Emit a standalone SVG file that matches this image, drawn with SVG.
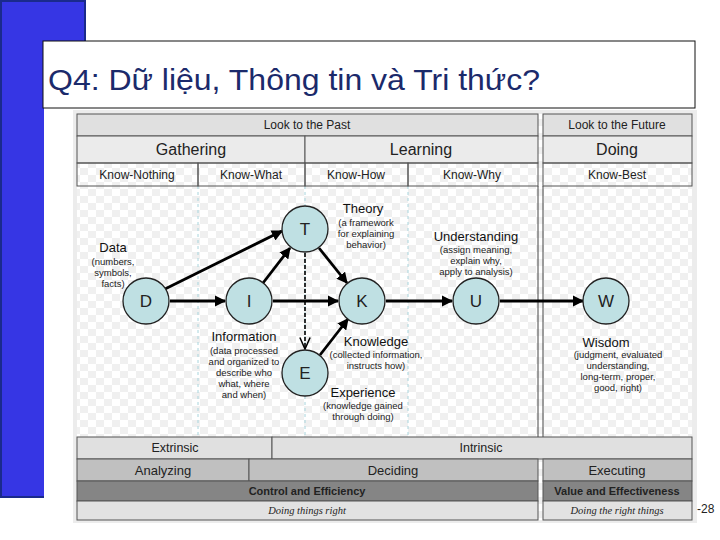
<svg xmlns="http://www.w3.org/2000/svg" width="720" height="540" viewBox="0 0 720 540">
<defs>
<pattern id="chk" x="0" y="0" width="16" height="14" patternUnits="userSpaceOnUse">
<rect width="16" height="14" fill="#ffffff"/>
<rect x="0" y="0" width="8" height="7" fill="#f0f0f0"/>
<rect x="8" y="7" width="8" height="7" fill="#f0f0f0"/>
</pattern>
<marker id="ah" viewBox="0 0 10 10" refX="9" refY="5" markerWidth="4" markerHeight="4" orient="auto" markerUnits="strokeWidth">
<path d="M0,0 L10,5 L0,10 Z" fill="#000"/>
</marker>
<marker id="ao" viewBox="0 0 10 10" refX="9" refY="5" markerWidth="8" markerHeight="8" orient="auto" markerUnits="strokeWidth">
<path d="M0,1 L9,5 L0,9" fill="none" stroke="#000" stroke-width="1.2"/>
</marker>
</defs>
<style>
.cell{stroke:#555;stroke-width:1}
.t{font-family:"Liberation Sans",Arial,sans-serif;fill:#222;text-anchor:middle}
.h1{font-size:12px}
.h2{font-size:16px}
.lab{font-family:"Liberation Sans",Arial,sans-serif;fill:#111;text-anchor:middle;font-size:13px}
.sub{font-family:"Liberation Sans",Arial,sans-serif;fill:#222;text-anchor:middle;font-size:9.5px}
.node circle{fill:#bfe0e3;stroke:#222;stroke-width:1.3}
.node text{font-family:"Liberation Sans",Arial,sans-serif;font-size:17px;fill:#222;text-anchor:middle}
.arr{stroke:#000;stroke-width:2.8;fill:none;marker-end:url(#ah)}
.vd{stroke:#a8d4dc;stroke-width:1;stroke-dasharray:3,3}
</style>
<rect width="720" height="540" fill="#fff"/>
<!-- blue bar -->
<rect x="1" y="1" width="84" height="496" fill="#3636e4" stroke="#1a2a8c" stroke-width="2"/>
<rect x="44" y="41" width="676" height="499" fill="#fff"/>
<!-- title box -->
<g id="title">
<rect x="43" y="41" width="652" height="67" fill="#fff" stroke="#111" stroke-width="1"/>
<text x="48" y="90" font-family="'Liberation Sans',Arial,sans-serif" font-size="30" fill="#1b2a6b" textLength="492" lengthAdjust="spacingAndGlyphs">Q4: Dữ liệu, Thông tin và Tri thức?</text>
</g>
<!-- diagram frame -->
<rect x="73" y="110" width="624" height="413" fill="#ececec"/>
<rect x="77" y="114" width="615" height="406" fill="url(#chk)"/>
<!-- column guides -->
<g id="guides">
<line class="vd" x1="198" y1="186" x2="198" y2="437"/>
<line class="vd" x1="305" y1="186" x2="305" y2="437"/>
<line class="vd" x1="408" y1="186" x2="408" y2="437"/>
</g>
<!-- header table -->
<g id="header">
<rect class="cell" x="77" y="114" width="461" height="22" fill="#e0e0e0"/>
<rect class="cell" x="543" y="114" width="149" height="22" fill="#e0e0e0"/>
<rect class="cell" x="77" y="136" width="228" height="27" fill="#ebebeb"/>
<rect class="cell" x="305" y="136" width="233" height="27" fill="#ebebeb"/>
<rect class="cell" x="543" y="136" width="149" height="27" fill="#ebebeb"/>
<rect class="cell" x="77" y="163" width="121" height="23" fill="none"/>
<rect class="cell" x="198" y="163" width="107" height="23" fill="none"/>
<rect class="cell" x="305" y="163" width="103" height="23" fill="none"/>
<rect class="cell" x="408" y="163" width="130" height="23" fill="none"/>
<rect class="cell" x="543" y="163" width="149" height="23" fill="none"/>
<text class="t h1" x="307" y="129">Look to the Past</text>
<text class="t h1" x="617" y="129">Look to the Future</text>
<text class="t h2" x="191" y="155">Gathering</text>
<text class="t h2" x="421" y="155">Learning</text>
<text class="t h2" x="617" y="155">Doing</text>
<text class="t h1" x="137" y="179">Know-Nothing</text>
<text class="t h1" x="251" y="179">Know-What</text>
<text class="t h1" x="356" y="179">Know-How</text>
<text class="t h1" x="472" y="179">Know-Why</text>
<text class="t h1" x="617" y="179">Know-Best</text>
</g>
<!-- double divider -->
<g id="divider" stroke="#444" stroke-width="1">
<line x1="538" y1="186" x2="538" y2="437"/>
<line x1="543" y1="186" x2="543" y2="437"/>
</g>
<!-- connectors -->
<g id="connectors">
<line class="arr" x1="165" y1="289" x2="282" y2="231"/>
<line class="arr" x1="170" y1="301" x2="225" y2="301"/>
<line class="arr" x1="263" y1="283" x2="290" y2="248"/>
<line class="arr" x1="273" y1="301" x2="338" y2="301"/>
<line class="arr" x1="319" y1="248" x2="347" y2="283"/>
<line class="arr" x1="320" y1="355" x2="348" y2="319"/>
<line class="arr" x1="386" y1="301" x2="452" y2="301"/>
<line class="arr" x1="500" y1="301" x2="583" y2="301"/>
<line x1="305" y1="253" x2="305" y2="349" stroke="#000" stroke-width="1.6" stroke-dasharray="4,2" marker-end="url(#ao)"/>
</g>
<!-- nodes -->
<g id="node-D" class="node"><circle cx="146" cy="301" r="23"/><text x="146" y="307">D</text></g>
<g id="node-I" class="node"><circle cx="249" cy="301" r="23"/><text x="249" y="307">I</text></g>
<g id="node-T" class="node"><circle cx="305" cy="229" r="23"/><text x="305" y="235">T</text></g>
<g id="node-K" class="node"><circle cx="362" cy="301" r="23"/><text x="362" y="307">K</text></g>
<g id="node-U" class="node"><circle cx="476" cy="301" r="23"/><text x="476" y="307">U</text></g>
<g id="node-W" class="node"><circle cx="606" cy="301" r="23"/><text x="606" y="307">W</text></g>
<g id="node-E" class="node"><circle cx="305" cy="373" r="23"/><text x="305" y="379">E</text></g>
<!-- labels -->
<g id="labels">
<text class="lab" x="113" y="252">Data</text>
<text class="sub" x="113" y="265">(numbers,</text>
<text class="sub" x="113" y="276">symbols,</text>
<text class="sub" x="113" y="287">facts)</text>
<text class="lab" x="363" y="213">Theory</text>
<text class="sub" x="366" y="226">(a framework</text>
<text class="sub" x="366" y="237">for explaining</text>
<text class="sub" x="366" y="248">behavior)</text>
<text class="lab" x="476" y="241">Understanding</text>
<text class="sub" x="476" y="253">(assign meaning,</text>
<text class="sub" x="476" y="264">explain why,</text>
<text class="sub" x="476" y="275">apply to analysis)</text>
<text class="lab" x="244" y="341">Information</text>
<text class="sub" x="244" y="354">(data processed</text>
<text class="sub" x="244" y="365">and organized to</text>
<text class="sub" x="244" y="376">describe who</text>
<text class="sub" x="244" y="387">what, where</text>
<text class="sub" x="244" y="398">and when)</text>
<text class="lab" x="376" y="346">Knowledge</text>
<text class="sub" x="376" y="358">(collected information,</text>
<text class="sub" x="376" y="369">instructs how)</text>
<text class="lab" x="363" y="397">Experience</text>
<text class="sub" x="363" y="409">(knowledge gained</text>
<text class="sub" x="363" y="420">through doing)</text>
<text class="lab" x="606" y="347">Wisdom</text>
<text class="sub" x="618" y="358">(judgment, evaluated</text>
<text class="sub" x="618" y="369">understanding,</text>
<text class="sub" x="618" y="380">long-term, proper,</text>
<text class="sub" x="618" y="391">good, right)</text>
</g>
<!-- footer table -->
<g id="footer">
<rect class="cell" x="77" y="437" width="195" height="22" fill="#e0e0e0"/>
<rect class="cell" x="272" y="437" width="420" height="22" fill="#e0e0e0"/>
<rect class="cell" x="77" y="459" width="172" height="22" fill="#c0c0c0"/>
<rect class="cell" x="249" y="459" width="289" height="22" fill="#c0c0c0"/>
<rect class="cell" x="543" y="459" width="149" height="22" fill="#c0c0c0"/>
<rect class="cell" x="77" y="481" width="461" height="20" fill="#858585"/>
<rect class="cell" x="543" y="481" width="149" height="20" fill="#858585"/>
<rect class="cell" x="77" y="501" width="461" height="19" fill="#e2e2e2"/>
<rect class="cell" x="543" y="501" width="149" height="19" fill="#e2e2e2"/>
<text class="t" font-size="12.5" x="175" y="452">Extrinsic</text>
<text class="t" font-size="12.5" x="481" y="452">Intrinsic</text>
<text class="t" font-size="13" x="163" y="475">Analyzing</text>
<text class="t" font-size="13" x="393" y="475">Deciding</text>
<text class="t" font-size="13" x="617" y="475">Executing</text>
<text class="t" font-size="11" font-weight="bold" x="307" y="495">Control and Efficiency</text>
<text class="t" font-size="11" font-weight="bold" x="617" y="495">Value and Effectiveness</text>
<text font-family="'Liberation Serif','Times New Roman',serif" font-style="italic" font-size="10.5" fill="#222" text-anchor="middle" x="307" y="514">Doing things right</text>
<text font-family="'Liberation Serif','Times New Roman',serif" font-style="italic" font-size="10.5" fill="#222" text-anchor="middle" x="617" y="514">Doing the right things</text>
</g>
<text x="697" y="513" font-family="'Liberation Sans',Arial,sans-serif" font-size="12" fill="#222">-28</text>
</svg>
